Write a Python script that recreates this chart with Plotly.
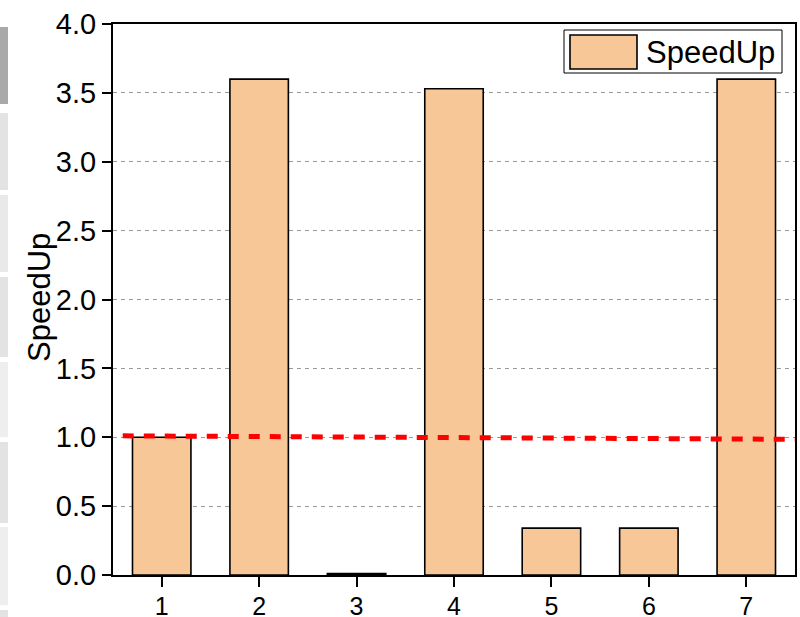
import plotly.graph_objects as go

categories = [1, 2, 3, 4, 5, 6, 7]
speedup = [1.0, 3.6, 0.01, 3.53, 0.34, 0.34, 3.6]
ref_x = [0.6, 7.5]
ref_y = [1.01, 0.985]
y_ticks = [0.0, 0.5, 1.0, 1.5, 2.0, 2.5, 3.0, 3.5, 4.0]
y_tick_labels = ["0.0", "0.5", "1.0", "1.5", "2.0", "2.5", "3.0", "3.5", "4.0"]
legend_label = "SpeedUp"
y_title = "SpeedUp"

bar_color = "#F8C797"
FONT = "Liberation Sans, Arial, Helvetica, sans-serif"

fig = go.Figure()
fig.add_trace(go.Bar(
    x=categories, y=speedup, width=0.6, name=legend_label,
    marker=dict(color=bar_color, line=dict(color="black", width=1.6)),
    showlegend=False,
))
fig.add_trace(go.Scatter(
    x=ref_x, y=ref_y, mode="lines", showlegend=False,
    line=dict(color="#FF0000", width=5, dash="11px,10px"),
    cliponaxis=False,
))

shapes = []
# left-edge grey strip (screenshot artefact)
strip = [(27, 104, "#a9a9a9"), (113, 190, "#e3e3e3"), (195, 272, "#e9e9e9"),
         (277, 357, "#e3e3e3"), (362, 437, "#eeeeee"), (442, 523, "#e3e3e3"),
         (527, 605, "#eeeeee"), (610, 617, "#e3e3e3")]
L, R, T, B = 113, 795, 24, 575
W, H = R - L, B - T
for y0, y1, c in strip:
    shapes.append(dict(type="rect", xref="paper", yref="paper",
                       x0=(0 - L) / W, x1=(8 - L) / W,
                       y0=(B - y1) / H, y1=(B - y0) / H,
                       fillcolor=c, line=dict(width=0), layer="below"))
# legend box
shapes.append(dict(type="rect", xref="paper", yref="paper",
                   x0=(564 - L) / W, x1=(782 - L) / W,
                   y0=(B - 73) / H, y1=(B - 30) / H,
                   fillcolor="white", line=dict(color="black", width=1)))
shapes.append(dict(type="rect", xref="paper", yref="paper",
                   x0=(570 - L) / W, x1=(637 - L) / W,
                   y0=(B - 69) / H, y1=(B - 35) / H,
                   fillcolor=bar_color, line=dict(color="black", width=1.6)))

fig.update_layout(
    width=800, height=617,
    margin=dict(l=L, r=800 - R, t=T, b=617 - B, autoexpand=False),
    paper_bgcolor="white", plot_bgcolor="white",
    font=dict(family=FONT, color="black", size=28),
    shapes=shapes,
    annotations=[
        dict(text=legend_label, xref="paper", yref="paper",
             x=(644 - L) / W, y=(B - 52) / H, xanchor="left", yanchor="middle",
             showarrow=False, font=dict(size=31, family=FONT)),
        dict(text=y_title, xref="paper", yref="paper", textangle=-90,
             x=(39 - L) / W, y=(B - 298) / H, xanchor="center", yanchor="middle",
             showarrow=False, font=dict(size=31, family=FONT)),
    ],
    xaxis=dict(
        range=[0.5, 7.5], tickvals=categories, ticktext=[str(c) for c in categories],
        showline=True, linecolor="black", linewidth=2, mirror=True,
        ticks="outside", ticklen=10, tickwidth=2, tickcolor="black",
        showgrid=False, zeroline=False, tickfont=dict(size=25),
        ticklabelstandoff=-2,
        automargin=False,
    ),
    yaxis=dict(
        range=[0, 4], tickvals=y_ticks, ticktext=y_tick_labels,
        showline=True, linecolor="black", linewidth=2, mirror=True,
        ticks="outside", ticklen=9, tickwidth=2, tickcolor="black",
        showgrid=True, gridcolor="#999999", gridwidth=1, griddash="4px,4px",
        zeroline=False, tickfont=dict(size=29),
        automargin=False,
    ),
)

fig.write_html("out.html", config={"displayModeBar": False},
               post_script="document.body.style.margin='0';document.body.style.overflow='hidden';")
